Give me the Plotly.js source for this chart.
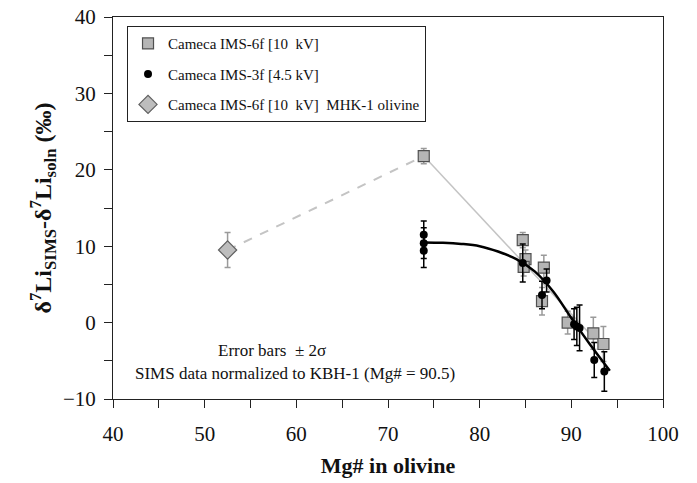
<!DOCTYPE html>
<html>
<head>
<meta charset="utf-8">
<script src="https://cdn.plot.ly/plotly-3.0.1.min.js"></script>
<style>html,body{margin:0;padding:0;background:#fff;}</style>
</head>
<body>
<div id="chart" style="width:697px;height:483px;"></div>
<script>
// IMS-6f [10 kV] (gray squares)
const sqX   = [73.9, 84.7, 85.0, 84.8, 87.0, 86.8, 89.6, 92.4, 93.5];
const sqY   = [21.8, 10.8, 8.3, 7.3, 7.2, 2.8, 0.0, -1.4, -2.8];
const sqErr = [1.0, 1.0, 1.2, 1.2, 1.6, 1.8, 1.5, 2.1, 2.3];
// IMS-3f [4.5 kV] (black circles)
const ciX   = [73.9, 73.9, 73.9, 84.7, 87.3, 86.8, 90.3, 90.6, 90.9, 92.5, 93.6];
const ciY   = [11.5, 10.4, 9.4, 7.8, 5.5, 3.6, -0.2, -0.5, -0.7, -4.9, -6.4];
const ciErr = [1.8, 2.0, 2.2, 2.5, 1.5, 1.8, 2.0, 2.5, 3.0, 2.3, 2.6];
// MHK-1 olivine (gray diamond)
const diX = [52.5];
const diY = [9.5];
const diErr = [2.3];
// dashed link from MHK-1 to the Mg# 74 sample
const dashX = [52.5, 73.9];
const dashY = [9.5, 21.8];
// gray trend line through IMS-6f data
const grayX = [73.9, 92.6];
const grayY = [21.8, -2.2];
// black fit curve through IMS-3f data
const fitX = [73.9, 76, 78, 80, 82, 84, 86, 88, 90, 92, 94.2];
const fitY = [10.5, 10.45, 10.3, 10.0, 9.3, 8.3, 6.7, 4.1, 0.6, -2.8, -6.3];

const legendNames = [
  'Cameca IMS-6f [10\u00a0\u00a0kV]',
  'Cameca IMS-3f [4.5 kV]',
  'Cameca IMS-6f [10\u00a0\u00a0kV]\u00a0\u00a0MHK-1 olivine'
];
const xTitle = '<b>Mg# in olivine</b>';
const yTitle = '<b>\u03b4<sup>7</sup>Li<sub>SIMS</sub>-\u03b4<sup>7</sup>Li<sub>soln</sub> (\u2030)</b>';
const note1 = 'Error bars \u00a0\u00b1 2\u03c3';
const note2 = 'SIMS data normalized to KBH-1 (Mg# = 90.5)';

const serif = 'Liberation Serif, Times New Roman, serif';

const traces = [
  {x: dashX, y: dashY, mode: 'lines', showlegend: false, hoverinfo: 'skip',
   line: {color: '#c4c4c4', width: 2, dash: 'dash'}},
  {x: grayX, y: grayY, mode: 'lines', showlegend: false, hoverinfo: 'skip',
   line: {color: '#c4c4c4', width: 1.5}},
  {x: sqX, y: sqY, mode: 'markers', name: legendNames[0], legendgroup: 'a',
   error_y: {type: 'data', array: sqErr, color: '#9a9a9a', thickness: 1.5, width: 3},
   marker: {symbol: 'square', size: 11, color: '#b5b5b5', line: {color: '#505050', width: 1.2}}},
  {x: ciX, y: ciY, mode: 'markers', name: legendNames[1], legendgroup: 'b',
   error_y: {type: 'data', array: ciErr, color: '#000', thickness: 1.5, width: 3},
   marker: {symbol: 'circle', size: 8, color: '#000'}},
  {x: diX, y: diY, mode: 'markers', name: legendNames[2], legendgroup: 'c',
   error_y: {type: 'data', array: diErr, color: '#9a9a9a', thickness: 1.5, width: 3},
   marker: {symbol: 'diamond', size: 14, color: '#bdbdbd', line: {color: '#606060', width: 1.2}}},
  {x: fitX, y: fitY, mode: 'lines', showlegend: false, hoverinfo: 'skip',
   line: {color: '#000', width: 2.5, shape: 'spline'}}
];

const layout = {
  width: 697, height: 483,
  margin: {l: 113, r: 34, t: 17, b: 84},
  paper_bgcolor: '#fff', plot_bgcolor: '#fff',
  font: {family: serif, color: '#111'},
  showlegend: true,
  legend: {
    x: 0.0255, y: 0.976, xanchor: 'left', yanchor: 'top',
    bgcolor: '#fff', bordercolor: '#222', borderwidth: 1,
    font: {family: serif, size: 15, color: '#111'},
    itemwidth: 30, traceorder: 'grouped', tracegroupgap: 8
  },
  xaxis: {
    range: [40, 100], dtick: 10, tick0: 40,
    showgrid: false, zeroline: false,
    showline: true, linecolor: '#222', linewidth: 1, mirror: true,
    ticks: 'outside', ticklen: 8, tickcolor: '#222',
    minor: {dtick: 5, ticks: 'outside', ticklen: 8, tickcolor: '#222'},
    tickfont: {family: serif, size: 21, color: '#111'},
    ticklabelstandoff: 8,
    title: {text: xTitle, font: {family: serif, size: 22, color: '#111'}, standoff: 12}
  },
  yaxis: {
    range: [-10, 40], dtick: 10, tick0: -10,
    showgrid: false, zeroline: false,
    showline: true, linecolor: '#222', linewidth: 1, mirror: true,
    ticks: 'outside', ticklen: 8, tickcolor: '#222',
    minor: {dtick: 5, ticks: 'outside', ticklen: 8, tickcolor: '#222'},
    tickfont: {family: serif, size: 21, color: '#111'},
    ticklabelstandoff: 4,
    title: {text: yTitle, font: {family: serif, size: 24, color: '#111'}, standoff: 4}
  },
  annotations: [
    {xref: 'paper', yref: 'paper', x: 0.289, y: 0.128, text: note1, showarrow: false,
     xanchor: 'center', yanchor: 'middle', font: {family: serif, size: 17, color: '#111'}},
    {xref: 'paper', yref: 'paper', x: 0.036, y: 0.068, text: note2, showarrow: false,
     xanchor: 'left', yanchor: 'middle', font: {family: serif, size: 17, color: '#111'}}
  ]
};

Plotly.newPlot('chart', traces, layout, {displayModeBar: false, staticPlot: true});
</script>
</body>
</html>
